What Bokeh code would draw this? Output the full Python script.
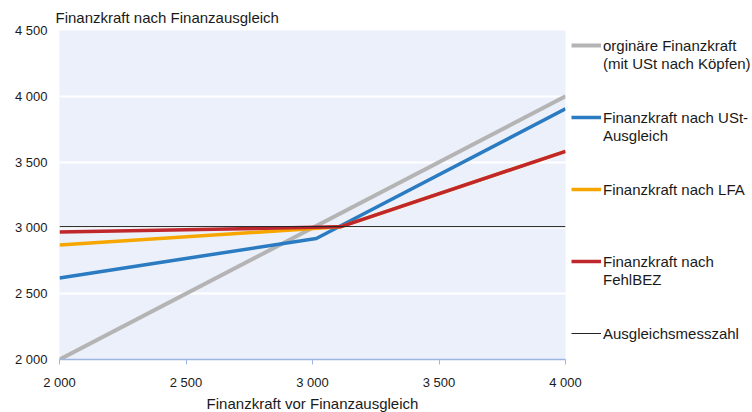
from bokeh.plotting import figure
from bokeh.models import FixedTicker, Legend, LegendItem, Range1d
from bokeh.embed import file_html
from bokeh.resources import INLINE

# ---- data ----
x_ticks = [2000, 2500, 3000, 3500, 4000]
y_ticks = [2000, 2500, 3000, 3500, 4000, 4500]
tick_labels_x = ["2 000", "2 500", "3 000", "3 500", "4 000"]
tick_labels_y = ["2 000", "2 500", "3 000", "3 500", "4 000", "4 500"]

orig_x = [2000, 4000]
orig_y = [2000, 4000]

ust_x = [2000, 3015, 4000]
ust_y = [2620, 2920, 3905]

lfa_x = [2000, 3110, 4000]
lfa_y = [2870, 3008, 3582]

fehl_x = [2000, 3110, 4000]
fehl_y = [2968, 3008, 3582]

amz_x = [2000, 4000]
amz_y = [3010, 3010]

series_labels = [
    ["orginäre Finanzkraft", "(mit USt nach Köpfen)"],
    ["Finanzkraft nach USt-", "Ausgleich"],
    ["Finanzkraft nach LFA"],
    ["Finanzkraft nach", "FehlBEZ"],
    ["Ausgleichsmesszahl"],
]
# blank legend rows placed after each entry (to space the entries)
gap_rows = [2, 2, 3, 2, 0]

FONT = "Liberation Sans"
FS_TICK = "13px"
FS_TEXT = "15px"
TXT = "#1a1a1a"

p = figure(frame_width=506, frame_height=329, output_backend="svg",
           toolbar_location=None,
           x_range=Range1d(2000, 4000), y_range=Range1d(2000, 4500),
           min_border_left=59, min_border_top=30, min_border_right=187,
           min_border_bottom=53)
p.background_fill_color = "#ECF0FA"
p.border_fill_color = "white"
p.outline_line_color = None

p.title.text = "Finanzkraft nach Finanzausgleich"
p.title.text_font = FONT
p.title.text_font_size = FS_TEXT
p.title.text_font_style = "normal"
p.title.text_color = TXT
p.title.align = "left"
p.title.offset = -4
p.title.standoff = 9

p.xgrid.grid_line_color = None
p.ygrid.grid_line_color = "white"
p.ygrid.grid_line_width = 2
p.ygrid.ticker = FixedTicker(ticks=y_ticks)

xa = p.xaxis[0]
xa.ticker = FixedTicker(ticks=x_ticks)
xa.major_label_overrides = dict(zip(x_ticks, tick_labels_x))
xa.axis_line_color = "#9DB5E2"
xa.axis_line_width = 1.5
xa.major_tick_line_color = "#9DB5E2"
xa.major_tick_out = 5
xa.major_tick_in = 0
xa.minor_tick_line_color = None
xa.major_label_text_font = FONT
xa.major_label_text_font_size = FS_TICK
xa.major_label_text_color = TXT
xa.major_label_standoff = 10
xa.axis_label = "Finanzkraft vor Finanzausgleich"
xa.axis_label_text_font = FONT
xa.axis_label_text_font_size = FS_TEXT
xa.axis_label_text_font_style = "normal"
xa.axis_label_text_color = TXT
xa.axis_label_standoff = 2

ya = p.yaxis[0]
ya.ticker = FixedTicker(ticks=y_ticks)
ya.major_label_overrides = dict(zip(y_ticks, tick_labels_y))
ya.axis_line_color = None
ya.major_tick_line_color = None
ya.minor_tick_line_color = None
ya.major_label_text_font = FONT
ya.major_label_text_font_size = FS_TICK
ya.major_label_text_color = TXT
ya.major_label_standoff = 6

r_orig = p.line(orig_x, orig_y, line_color="#B4B4B4", line_width=4)
r_ust = p.line(ust_x, ust_y, line_color="#2A7BC1", line_width=3.5)
r_lfa = p.line(lfa_x, lfa_y, line_color="#F7A600", line_width=3.5)
r_fehl = p.line(fehl_x, fehl_y, line_color="#C0272D", line_width=3.5)
r_amz = p.line(amz_x, amz_y, line_color="#222222", line_width=1)
# invisible renderer used for continuation / spacer rows in the legend
r_blank = p.line(x=[], y=[], line_alpha=0)

items = []
for rend, lines, gap in zip([r_orig, r_ust, r_lfa, r_fehl, r_amz],
                            series_labels, gap_rows):
    items.append(LegendItem(label=lines[0], renderers=[rend]))
    for extra in lines[1:]:
        items.append(LegendItem(label=extra, renderers=[r_blank]))
    for _ in range(gap):
        items.append(LegendItem(label=" ", renderers=[r_blank]))

legend = Legend(items=items, location="top_left",
                background_fill_alpha=0, border_line_color=None,
                padding=0, margin=6, spacing=0,
                glyph_width=30, glyph_height=18, label_standoff=2,
                label_text_font=FONT, label_text_font_size=FS_TEXT,
                label_text_color=TXT, label_height=18)
p.add_layout(legend, "right")

open("out.html", "w").write(file_html(p, INLINE))
